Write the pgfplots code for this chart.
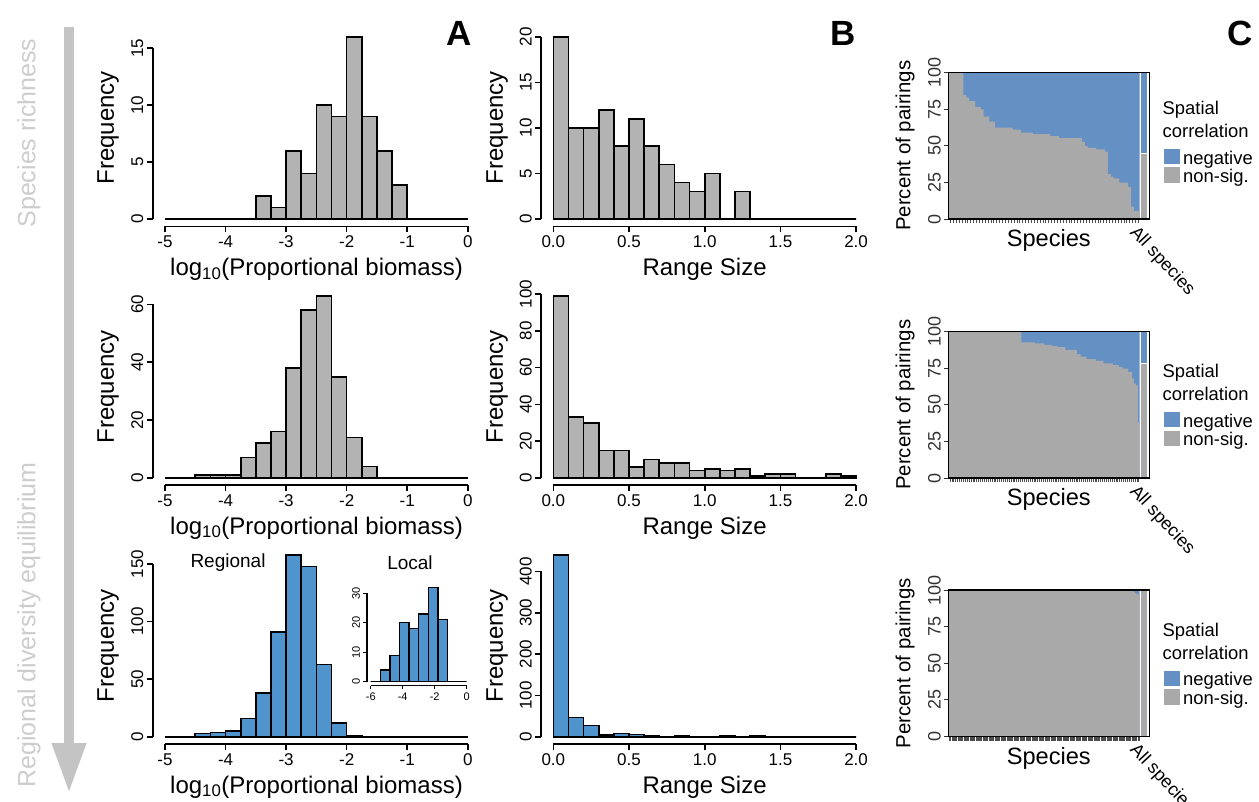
\documentclass[border=0pt]{standalone}
\usepackage{fontspec}
\setmainfont{Liberation Sans}
\usepackage{pgfplots}
\pgfplotsset{compat=1.18}
\usetikzlibrary{arrows.meta}

\definecolor{hgray}{HTML}{B3B3B3}
\definecolor{hblue}{HTML}{4F94CD}
\definecolor{cgray}{HTML}{A9A9A9}
\definecolor{cblue}{HTML}{6490C4}
\definecolor{arrgray}{HTML}{C4C4C4}
\definecolor{txtgray}{HTML}{CDCDCD}

\newcommand\fs[1]{\fontsize{#1}{#1}\selectfont}

\tikzset{rline/.style={line width=1.6pt}}

% 1 px of the reference = 1pt here; y runs downwards as negative
\pgfplotsset{
  rhist/.style={
    scale only axis, width=327pt, height=196.7pt,
    clip=false, axis lines*=left, axis line style={draw=none},
    tick align=outside, major tick length=6pt,
    every tick/.style={black, line width=1.6pt},
    ticklabel style={font=\fs{17}},
    yticklabel style={rotate=90, anchor=south},
    /pgf/number format/assume math mode=true,
    scaled ticks=false,
  },
  rbx/.style={xmin=-0.08, xmax=2.08, xtick={0,0.5,1,1.5,2},
    xticklabel style={/pgf/number format/.cd, fixed, fixed zerofill, precision=1}},
  rax/.style={xmin=-5.2, xmax=0.2, xtick={-5,-4,-3,-2,-1,0}},
  rbar/.style={ybar interval, draw=black, line width=1.6pt, fill=#1},
  cpanel/.style={
    scale only axis, width=201pt, height=146.5pt,
    ymin=0, ymax=100, ytick={0,25,50,75,100},
    axis line style={black, line width=1.6pt}, axis on top,
    tick align=outside, tick pos=left, major tick length=4pt,
    xtick style={black!70, line width=0.6pt},
    ytick style={black!80, line width=1pt},
    xticklabels={}, xticklabel style={inner sep=0pt, outer sep=0pt},
    yticklabel style={rotate=90, anchor=south, font=\fs{18}, text=black!80},
    /pgf/number format/assume math mode=true,
  },
}

\begin{document}
\begin{tikzpicture}
\useasboundingbox (0,0) rectangle (1259pt,-801pt);

% ---------- left arrow ----------
\draw[arrgray, line width=10pt, -{Triangle[width=32pt, length=50pt]}] (69pt,-27pt) -- (69pt,-793pt);
\node[rotate=90, text=txtgray, font=\fs{25}] at (29pt,-133pt) {Species richness};
\node[rotate=90, text=txtgray, font=\fs{25}] at (29pt,-625pt) {Regional diversity equilibrium};

% ---------- row 1 ----------
\begin{axis}[rhist, rax, at={(152.9pt,-29.6pt)}, anchor=north west,
  ymin=-0.64, ymax=16.64, ytick={0,5,10,15}]
\addplot[rbar=hgray] table {
x y
-5 0
-4.75 0
-4.5 0
-4.25 0
-4 0
-3.75 0
-3.5 2
-3.25 1
-3 6
-2.75 4
-2.5 10
-2.25 9
-2 16
-1.75 9
-1.5 6
-1.25 3
-1 0
-0.75 0
-0.5 0
-0.25 0
0 0
};
\draw[rline] (axis cs:-5,-0.64) -- (axis cs:0,-0.64);
\draw[rline] (axis cs:-5.2,0) -- (axis cs:-5.2,15);
\end{axis}

\begin{axis}[rhist, rbx, at={(541.2pt,-29.6pt)}, anchor=north west,
  ymin=-0.8, ymax=20.8, ytick={0,5,10,15,20}]
\addplot[rbar=hgray] table {
x y
0 20
0.1 10
0.2 10
0.3 12
0.4 8
0.5 11
0.6 8
0.7 6
0.8 4
0.9 3
1.0 5
1.1 0
1.2 3
1.3 0
1.4 0
1.5 0
1.6 0
1.7 0
1.8 0
1.9 0
2.0 0
};
\draw[rline] (axis cs:0,-0.8) -- (axis cs:2,-0.8);
\draw[rline] (axis cs:-0.08,0) -- (axis cs:-0.08,20);
\end{axis}

\begin{axis}[cpanel, at={(948.3pt,-72.5pt)}, anchor=north west,
  xmin=-0.24, xmax=69.33, xtick={0.5,1.5,...,65.5}]
\addplot[const plot, fill=cblue, draw=none] coordinates {(0,100) (66,100)} \closedcycle;
\addplot[const plot, fill=cgray, draw=none] coordinates {
(0,100) (5,84.5) (6,83) (7,80.5) (9,76.6) (11,74.8) (12,69.8) (14,66.4)
(16,62.3) (22,61) (25,58.9) (29,58) (35,56.6) (38,55.2) (46,52.7) (47,50)
(48,48.6) (51,47.5) (54,46) (55,30.7) (56,28.9) (57,27.7) (59,24.8) (62,22)
(63,8.4) (64,5.5) (66,5.5)} \closedcycle;
\addplot[const plot, fill=cblue, draw=white, line width=0.8pt] coordinates {(66.22,100) (68.78,100)} \closedcycle;
\addplot[const plot, fill=cgray, draw=white, line width=0.8pt] coordinates {(66.22,44.8) (68.78,44.8)} \closedcycle;
\end{axis}

% ---------- row 2 ----------
\begin{axis}[rhist, rax, at={(152.9pt,-288.5pt)}, anchor=north west,
  ymin=-2.52, ymax=65.52, ytick={0,20,40,60}]
\addplot[rbar=hgray] table {
x y
-5 0
-4.75 0
-4.5 1
-4.25 1
-4 1
-3.75 7
-3.5 12
-3.25 16
-3 38
-2.75 58
-2.5 63
-2.25 35
-2 14
-1.75 4
-1.5 0
-1.25 0
-1 0
-0.75 0
-0.5 0
-0.25 0
0 0
};
\draw[rline] (axis cs:-5,-2.52) -- (axis cs:0,-2.52);
\draw[rline] (axis cs:-5.2,0) -- (axis cs:-5.2,60);
\end{axis}

\begin{axis}[rhist, rbx, at={(541.2pt,-288.5pt)}, anchor=north west,
  ymin=-3.96, ymax=102.96, ytick={0,20,40,60,80,100}]
\addplot[rbar=hgray] table {
x y
0 99
0.1 33
0.2 30
0.3 15
0.4 15
0.5 6
0.6 10
0.7 8
0.8 8
0.9 4
1.0 5
1.1 4
1.2 5
1.3 1
1.4 2
1.5 2
1.6 0
1.7 0
1.8 2
1.9 1
2.0 0
};
\draw[rline] (axis cs:0,-3.96) -- (axis cs:2,-3.96);
\draw[rline] (axis cs:-0.08,0) -- (axis cs:-0.08,100);
\end{axis}

\begin{axis}[cpanel, at={(948.3pt,-331.5pt)}, anchor=north west,
  xmin=-0.37, xmax=105.05, xtick={0.5,1.5,...,99.5}]
\addplot[const plot, fill=cblue, draw=none] coordinates {(0,100) (100,100)} \closedcycle;
\addplot[const plot, fill=cgray, draw=none] coordinates {
(0,100) (38,92.6) (45,91.9) (50,90.8) (54,90.1) (57,89.4) (61,87.4) (67,84.6)
(69,82.8) (72,81.1) (77,80) (81,78.2) (86,77) (89,75.9) (91,74.7) (94,72.4)
(96,67.8) (97,64.4) (98,63.2) (99,38) (100,38)} \closedcycle;
\addplot[const plot, fill=cblue, draw=white, line width=0.8pt] coordinates {(100.33,100) (104.21,100)} \closedcycle;
\addplot[const plot, fill=cgray, draw=white, line width=0.8pt] coordinates {(100.33,78) (104.21,78)} \closedcycle;
\end{axis}

% ---------- row 3 ----------
\begin{axis}[rhist, rax, at={(152.9pt,-547.5pt)}, anchor=north west,
  ymin=-6.32, ymax=164.32, ytick={0,50,100,150}]
\addplot[rbar=hblue] table {
x y
-5 0
-4.75 0
-4.5 3
-4.25 4
-4 5
-3.75 16
-3.5 38
-3.25 91
-3 158
-2.75 148
-2.5 63
-2.25 12
-2 1
-1.75 0
-1.5 0
-1.25 0
-1 0
-0.75 0
-0.5 0
-0.25 0
0 0
};
\draw[rline] (axis cs:-5,-6.32) -- (axis cs:0,-6.32);
\draw[rline] (axis cs:-5.2,0) -- (axis cs:-5.2,150);
\end{axis}

% inset: local
\begin{axis}[rhist, at={(366.9pt,-583.5pt)}, anchor=north west,
  width=103.6pt, height=102pt, major tick length=3.5pt,
  every tick/.style={black, line width=1.2pt},
  ticklabel style={font=\fs{11}},
  xmin=-6.24, xmax=0.24, ymin=-1.28, ymax=33.28,
  xtick={-6,-4,-2,0}, ytick={0,10,20,30}]
\addplot[ybar interval, draw=black, line width=1.3pt, fill=hblue] table {
x y
-6 0
-5.4 4
-4.8 9
-4.2 20
-3.6 18
-3.0 23
-2.4 32
-1.8 21
-1.2 0
-0.6 0
0 0
};
\draw[line width=1.2pt] (axis cs:-6,-1.28) -- (axis cs:0,-1.28);
\draw[line width=1.2pt] (axis cs:-6.24,0) -- (axis cs:-6.24,30);
\end{axis}

\begin{axis}[rhist, rbx, at={(541.2pt,-547.5pt)}, anchor=north west,
  ymin=-17.6, ymax=457.6, ytick={0,100,200,300,400}]
\addplot[rbar=hblue] table {
x y
0 440
0.1 47
0.2 28
0.3 5
0.4 8
0.5 6
0.6 2
0.7 1
0.8 3
0.9 1
1.0 1
1.1 2
1.2 1
1.3 2
1.4 0
1.5 0
1.6 0
1.7 0
1.8 0
1.9 0
2.0 0
};
\draw[rline] (axis cs:0,-17.6) -- (axis cs:2,-17.6);
\draw[rline] (axis cs:-0.08,0) -- (axis cs:-0.08,400);
\end{axis}

\begin{axis}[cpanel, at={(948.3pt,-590pt)}, anchor=north west,
  xmin=-0.59, xmax=168.08, xtick={0.5,1.5,...,159.5}]
\addplot[const plot, fill=cblue, draw=none] coordinates {(0,100) (160,100)} \closedcycle;
\addplot[const plot, fill=cgray, draw=none] coordinates {
(0,100) (155,98.5) (156,98) (157,97.5) (158,97) (160,97)} \closedcycle;
\addplot[const plot, fill=cblue, draw=white, line width=0.8pt] coordinates {(160.53,100) (166.74,100)} \closedcycle;
\addplot[const plot, fill=cgray, draw=white, line width=0.8pt] coordinates {(160.53,99.6) (166.74,99.6)} \closedcycle;
\end{axis}

% ---------- histogram labels ----------
\foreach \t/\b in {29.6/226.3, 288.5/485.2, 547.5/744.2}{
  \node[rotate=90, font=\fs{24}] at (108pt,{-(\t+98.3)*1pt}) {Frequency};
  \node[rotate=90, font=\fs{24}] at (497pt,{-(\t+98.3)*1pt}) {Frequency};
  \node[anchor=base, font=\fs{24}] at (316.5pt,{-(\b+49)*1pt}) {log\textsubscript{10}(Proportional biomass)};
  \node[anchor=base, font=\fs{24}] at (704.6pt,{-(\b+49)*1pt}) {Range Size};
}
\node[font=\fs{19}] at (228pt,-563pt) {Regional};
\node[font=\fs{19}] at (410pt,-563pt) {Local};

% ---------- panel C labels and legends ----------
\foreach \t/\b/\l in {72.5/219/0, 331.5/478/263.4, 590/736.5/521.7}{
  \node[rotate=90, font=\fs{20.4}] at (905pt,{-(\t+73.25)*1pt}) {Percent of pairings};
  \node[anchor=base, font=\fs{23.6}] at (1048.8pt,{-(\b+27.5)*1pt}) {Species};
  \node[anchor=north west, rotate=-47, font=\fs{18}, inner sep=0pt] at (1139pt,{-(\b+5)*1pt}) {All species};
  \node[anchor=base west, font=\fs{18.4}, inner sep=0pt] at (1162.5pt,{-(114.3+\l)*1pt}) {Spatial};
  \node[anchor=base west, font=\fs{18.4}, inner sep=0pt] at (1162.5pt,{-(137.3+\l)*1pt}) {correlation};
  \fill[cblue, draw=white, line width=0.8pt] (1163.3pt,{-(148.3+\l)*1pt}) rectangle (1180.7pt,{-(164.3+\l)*1pt});
  \fill[cgray, draw=white, line width=0.8pt] (1163.3pt,{-(166.7+\l)*1pt}) rectangle (1180.7pt,{-(183.3+\l)*1pt});
  \node[anchor=base west, font=\fs{18.4}, inner sep=0pt] at (1183pt,{-(164+\l)*1pt}) {negative};
  \node[anchor=base west, font=\fs{18.4}, inner sep=0pt] at (1183pt,{-(182.3+\l)*1pt}) {non-sig.};
}

% ---------- panel letters ----------
\node[anchor=base east, font=\bfseries\fs{35}, inner sep=0pt] at (472pt,-45pt) {A};
\node[anchor=base east, font=\bfseries\fs{35}, inner sep=0pt] at (856pt,-45pt) {B};
\node[anchor=base east, font=\bfseries\fs{35}, inner sep=0pt] at (1253pt,-45pt) {C};
\end{tikzpicture}
\end{document}
